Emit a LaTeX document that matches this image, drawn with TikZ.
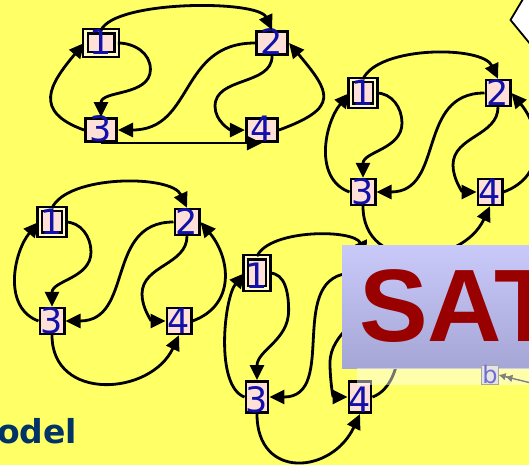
\documentclass[tikz,border=0pt]{standalone}
\usepackage{fontspec}
\newfontfamily\numfont{DejaVu Sans}
\newfontfamily\satfont{Liberation Sans}
\usetikzlibrary{arrows.meta}

\definecolor{slideyellow}{RGB}{255,255,102}
\definecolor{boxpink}{RGB}{255,224,216}
\definecolor{numblue}{RGB}{17,17,170}
\definecolor{ringcream}{RGB}{255,250,200}
\definecolor{titlenavy}{RGB}{0,51,102}
\definecolor{satred}{RGB}{153,0,0}
\definecolor{sattop}{RGB}{202,202,250}
\definecolor{satbot}{RGB}{166,166,214}

\begin{document}
\begin{tikzpicture}[
    x=1pt, y=1pt,
    vertex/.style={rectangle, draw=black, line width=2.6pt, fill=boxpink, inner sep=0pt,
      text=numblue, font=\numfont\fontsize{35}{40}\selectfont, text depth=0pt},
    entry/.style={line width=2.2pt, double=ringcream, double distance=2.4pt},
    link/.style={-{Triangle[length=15pt, width=14pt]}, line width=2.8pt},
    toparc/.style={looseness=.7},
    westarc/.style={},
    eastarc/.style={looseness=1.2},
    botarc/.style={out=-90, in=-115, looseness=1.35},
    pics/cyc/.style={code={
      \node[vertex, entry] (-1) at (0,0) {1};
      \node[vertex] (-2) at (135,0) {2};
      \node[vertex] (-3) at (0,-99) {3};
      \node[vertex] (-4) at (127,-99) {4};
      \draw[link] (-1.north) to[out=65, in=115, toparc] (-2.north);
      \draw[link] (-1.east) to[out=0, in=90] (39,-30) to[out=-90, in=90] (-3.north);
      \draw[link] (-2.west) to[out=180, in=0, looseness=1.2] (-3.east);
      \draw[link] (-2.south) to[out=-90, in=90] (90,-72) to[out=-90, in=180] (-4.west);
      \draw[link] (-3.west) to[out=160, in=-130, westarc] (-1.west);
      \draw[link] (-4.east) to[out=20, in=-50, eastarc] (-2.east);
      \draw[link] (-3.south) to[botarc] (-4.south);
    }}
]
    \useasboundingbox (0,0) rectangle (529,465);
    \fill[slideyellow] (0,0) rectangle (529,465);

    % Graphs
    \begin{scope}[shift={(101,422)}, x=1.267pt, y=.879pt,
        vertex/.append style={minimum width=31.4pt, minimum height=23.4pt, text height=23.4pt},
        toparc/.style={looseness=.5}, westarc/.style={looseness=1.6},
        eastarc/.style={looseness=1.9}, botarc/.style={}]
      \pic (ga) {cyc};
    \end{scope}
    \begin{scope}[shift={(363,372)},
        vertex/.append style={minimum width=24.4pt, minimum height=25.8pt, text height=25.8pt}]
      \pic (gb) {cyc};
    \end{scope}
    \begin{scope}[shift={(52,243)},
        vertex/.append style={minimum width=24.4pt, minimum height=25.8pt, text height=25.8pt}]
      \pic (gc) {cyc};
    \end{scope}
    \begin{scope}[shift={(257,192)}, x=.811pt, y=1.253pt,
        vertex/.append style={minimum width=20.4pt, minimum height=31.4pt, text height=31.4pt},
        westarc/.style={looseness=.66}, eastarc/.style={looseness=.8},
        botarc/.style={out=-90, in=-115, looseness=1.65}]
      \pic (gd) {cyc};
    \end{scope}

    % SAT panel
    \node[anchor=north west, minimum width=192pt, minimum height=123pt, inner sep=0pt,
      top color=sattop, bottom color=satbot] (panel) at (342,220) {};
    \node[anchor=base west, inner sep=0pt, text=satred,
      font=\satfont\bfseries\fontsize{103}{110}\selectfont] (sat) at (359,123) {SAT};

    % faded strip
    \fill[white, opacity=.45] (357,97) rectangle (531,80);
    \node[draw=gray!70, line width=1pt, fill=gray!20, inner sep=.5pt, text=numblue!60,
      text height=18pt, text depth=-4pt,
      font=\numfont\fontsize{24}{26}\selectfont] (bicon) at (490,90) {b};
    \coordinate (bfrom) at (531,82);
    \draw[gray, line width=1.4pt, -{Latex[length=7pt,width=8pt] Latex[length=7pt,width=8pt]}] (bfrom) -- (bicon.east);

    % callout corner
    \fill[white] (523,466) -- (510.5,445) -- (531,420) -- (531,466) -- cycle;
    \draw[line width=1.8pt] (523,466) -- (510.5,445) -- (531,420);

    \node[anchor=base west, inner sep=0pt, text=titlenavy,
      font=\numfont\bfseries\fontsize{33}{38}\selectfont] (title) at (-3,22) {odel};
\end{tikzpicture}
\end{document}
